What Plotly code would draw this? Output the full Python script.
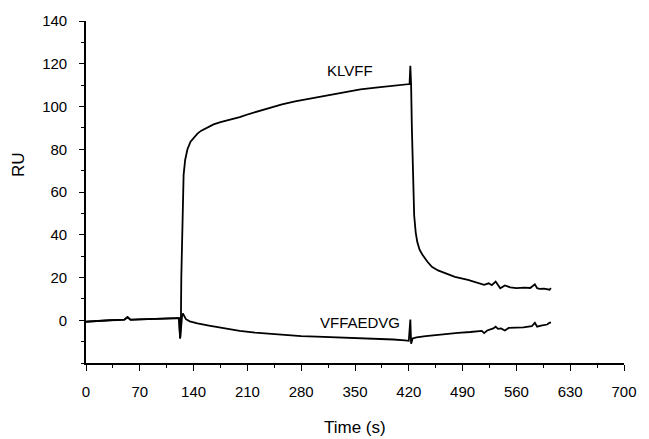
import plotly.graph_objects as go

# KLVFF trace (time s, RU)
klvff_t = [0, 10, 20, 30, 40, 50, 54, 58, 70, 80, 90, 100, 110, 118, 121, 122.5, 123.5, 124, 125, 126, 127,
           129, 132, 136, 141, 145, 150, 158, 166, 175, 184, 192, 200, 213, 226, 240, 255, 272, 281, 300,
           315, 335, 357, 380, 400, 415, 421, 422, 423, 424, 425, 426, 427, 429, 431, 434, 438, 444, 450,
           458, 467, 480, 497, 510, 518, 524, 528, 533, 536, 539, 545, 552, 560, 570, 578, 584, 587, 590,
           596, 603, 605]
klvff_v = [-0.6, -0.5, -0.3, 0.0, 0.2, 0.3, 1.5, 0.3, 0.4, 0.6, 0.7, 0.8, 0.9, 1.0, 1.0, -8.5, 0.0, 20.0,
           42.0, 58.0, 68.0, 75.0, 80.0, 83.5, 85.8, 87.3, 88.7, 90.3, 91.6, 92.7, 93.5, 94.1, 95.0, 96.6,
           98.0, 99.5, 101.0, 102.4, 103.0, 104.3, 105.5, 106.8, 108.0, 108.9, 109.6, 110.2, 110.5, 119.0,
           110.0, 90.0, 75.0, 60.0, 49.0, 41.0, 36.7, 33.0, 30.5, 27.5, 25.0, 23.3, 22.0, 20.3, 18.9, 17.5,
           16.6, 17.3, 16.4, 18.1, 16.2, 15.0, 16.3, 15.4, 15.0, 15.3, 15.1, 16.8, 15.0, 14.7, 14.8, 14.3,
           15.0]

# VFFAEDVG trace (time s, RU)
vff_t = [0, 10, 20, 30, 40, 50, 54, 58, 70, 80, 90, 100, 110, 118, 121, 122.5, 123.5, 125, 126, 128, 130,
         135, 145, 160, 180, 200, 220, 240, 260, 280, 300, 320, 340, 360, 380, 400, 415, 420, 422, 423,
         425, 430, 442, 460, 484, 500, 515, 518, 522, 530, 533, 536, 540, 545, 550, 569, 580, 584, 587,
         592, 600, 603, 605]
vff_v = [-0.7, -0.6, -0.4, -0.1, 0.1, 0.3, 1.4, 0.2, 0.4, 0.5, 0.7, 0.8, 0.9, 1.0, 1.0, -8.5, -2.0, 2.0,
         3.2, 2.0, 0.5, -0.5, -1.5, -2.5, -3.8, -5.0, -5.8, -6.4, -7.0, -7.4, -7.7, -7.9, -8.1, -8.3,
         -8.6, -9.0, -9.4, -9.6, 0.3, -11.0, -8.5, -8.0, -7.4, -6.7, -5.9, -5.5, -5.0, -6.0, -4.8, -3.8,
         -3.0, -4.0, -3.8, -4.8, -3.6, -3.3, -2.8, -1.2, -3.0, -2.5, -2.0, -1.2, -1.0]

x_ticks = [0, 70, 140, 210, 280, 350, 420, 490, 560, 630, 700]
y_ticks = [0, 20, 40, 60, 80, 100, 120, 140]

FONT = "Liberation Sans, Arial, Helvetica, sans-serif"

fig = go.Figure()
fig.add_trace(go.Scatter(x=klvff_t, y=klvff_v, mode="lines",
                         line=dict(color="black", width=1.8), showlegend=False))
fig.add_trace(go.Scatter(x=vff_t, y=vff_v, mode="lines",
                         line=dict(color="black", width=1.8), showlegend=False))

fig.add_annotation(x=343, y=117, text="KLVFF", showarrow=False,
                   xanchor="center", yanchor="middle",
                   font=dict(family=FONT, size=15, color="black"))
fig.add_annotation(x=357, y=-1.2, text="VFFAEDVG", showarrow=False,
                   xanchor="center", yanchor="middle",
                   font=dict(family=FONT, size=15, color="black"))
fig.add_annotation(x=0.4995, y=-0.188, xref="paper", yref="paper", text="Time (s)", showarrow=False,
                   xanchor="center", yanchor="middle",
                   font=dict(family=FONT, size=17, color="black"))
fig.add_annotation(x=-0.125, y=0.581, xref="paper", yref="paper", text="RU", showarrow=False,
                   textangle=-90, xanchor="center", yanchor="middle",
                   font=dict(family=FONT, size=17, color="black"))

fig.update_layout(
    width=649, height=439,
    margin=dict(l=86, r=13, t=18, b=76),
    paper_bgcolor="white", plot_bgcolor="white",
    font=dict(family=FONT, size=15, color="black"),
    xaxis=dict(range=[0, 700], tickvals=x_ticks, ticktext=[str(v) for v in x_ticks],
               showgrid=False, zeroline=False, showline=True, linecolor="black", linewidth=1.6,
               ticks="outside", ticklen=6, tickwidth=1.3, tickcolor="black",
               minor=dict(dtick=35, ticks="outside", ticklen=3, tickcolor="black", tickwidth=1),
               ticklabelstandoff=8),
    yaxis=dict(range=[-20, 140], tickvals=y_ticks, ticktext=[str(v) for v in y_ticks],
               showgrid=False, zeroline=False, showline=True, linecolor="black", linewidth=1.6,
               ticks="outside", ticklen=5, tickwidth=1.3, tickcolor="black",
               minor=dict(dtick=10, ticks="outside", ticklen=3, tickcolor="black", tickwidth=1),
               ticklabelstandoff=9),
)

fig.write_html("out.html")
